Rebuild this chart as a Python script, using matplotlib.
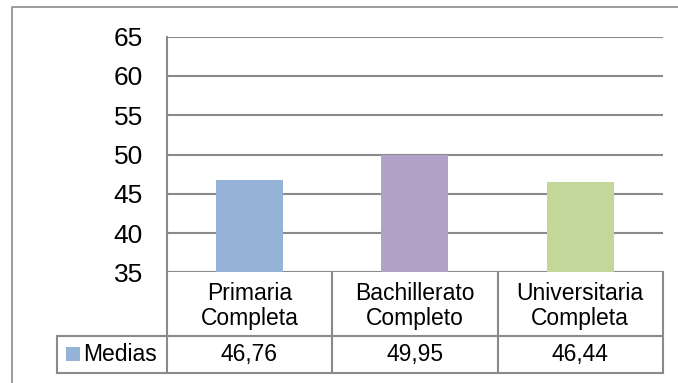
import matplotlib.pyplot as plt
import matplotlib.transforms as mtransforms
from matplotlib.patches import Rectangle
from matplotlib.lines import Line2D

plt.rcParams['font.family'] = ['Liberation Sans', 'DejaVu Sans']

# data
categories = ['Primaria\nCompleta', 'Bachillerato\nCompleto', 'Universitaria\nCompleta']
medias = [46.76, 49.95, 46.44]
value_labels = ['46,76', '49,95', '46,44']
series_name = 'Medias'
bar_colors = ['#95B3D7', '#B3A2C7', '#C4D79B']
yticks = [35, 40, 45, 50, 55, 60, 65]

W, H = 678, 383
fig = plt.figure(figsize=(W / 100, H / 100), dpi=100)

# plot area in pixel coords
left, right, top, bottom = 166.7, 663, 36.7, 272.3
ax = fig.add_axes([left / W, 1 - bottom / H, (right - left) / W, (bottom - top) / H])

grid_c = '#8a8a8a'
x = list(range(len(categories)))
ax.bar(x, [m - 35 for m in medias], bottom=35, width=0.405, color=bar_colors, zorder=3)
ax.set_xlim(-0.5, len(categories) - 0.5)
ax.set_ylim(35, 65)
ax.set_yticks(yticks)
ax.set_xticks([])
ax.tick_params(axis='y', length=0, pad=17, labelsize=19)
for s in ['top', 'right', 'bottom', 'left']:
    ax.spines[s].set_visible(False)
for t in yticks:
    ax.axhline(t, color=grid_c, lw=1.5, zorder=1)

# data table under the plot
tr = mtransforms.blended_transform_factory(ax.transData, ax.transAxes)
px_x = (right - left) / len(categories)   # pixels per category
px_y = bottom - top                      # pixels per axes height
row1 = -(336 - bottom) / px_y
row2 = -(372.7 - bottom) / px_y
leg_left = -0.5 - (left - 57.3) / px_x
fs = 16.5

def line(xs, ys):
    ax.plot(xs, ys, color=grid_c, lw=1.5, transform=tr, clip_on=False, zorder=2)

# left axis line through the table
line([-0.5, -0.5], [1, row2])
for i in range(len(categories)):
    line([i + 0.5, i + 0.5], [0, row2])
line([leg_left, len(categories) - 0.5], [row1, row1])
line([leg_left, len(categories) - 0.5], [row2, row2])
line([leg_left, leg_left], [row1, row2])

for i, (c, v) in enumerate(zip(categories, value_labels)):
    ax.text(i, row1 / 2 - 2 / px_y, c, ha='center', va='center', fontsize=fs,
            linespacing=1.12, transform=tr)
    ax.text(i, (row1 + row2) / 2, v, ha='center', va='center', fontsize=fs,
            transform=tr)

# legend key in the table
ym = (row1 + row2) / 2
ax.add_patch(Rectangle((leg_left + 8.5 / px_x, ym - 7 / px_y), 14 / px_x, 14 / px_y,
                       facecolor=bar_colors[0], transform=tr, clip_on=False))
ax.text(leg_left + 26 / px_x, ym, series_name, ha='left', va='center',
        fontsize=fs, transform=tr)

# outer chart border (only left and top edges are inside the picture)
fig.add_artist(Line2D([12 / W, 12 / W, 1], [0, 1 - 7 / H, 1 - 7 / H],
                      transform=fig.transFigure, color=grid_c, lw=1.2))

fig.savefig('out.png', dpi=100)
